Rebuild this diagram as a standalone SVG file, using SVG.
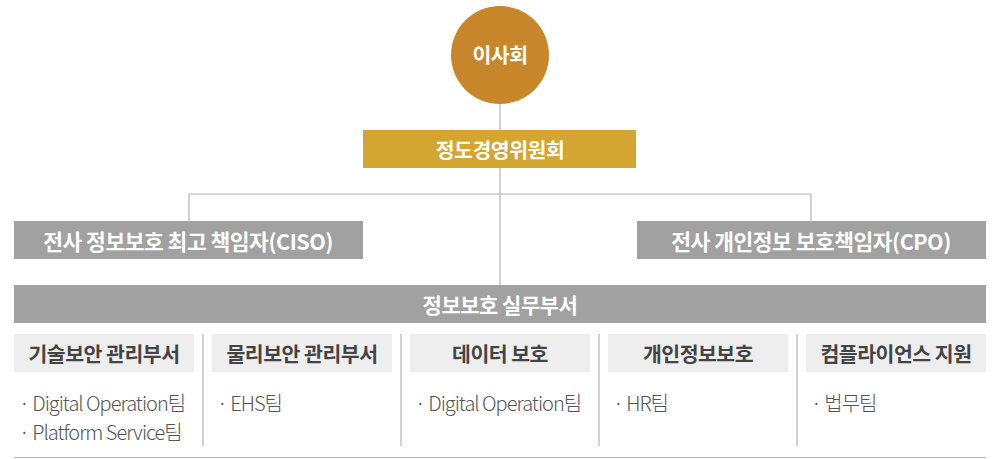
<svg xmlns="http://www.w3.org/2000/svg" width="993" height="459" viewBox="0 0 993 459">
<style>
.ln{stroke:#b4b4b4;stroke-width:1.2;fill:none}
.gray{fill:#a0a1a0}
.sub{fill:#eeeeee}
.wt{font-family:"Noto Sans CJK KR","Noto Sans",sans-serif;font-weight:700;fill:#ffffff;text-anchor:middle;dominant-baseline:central;letter-spacing:-0.5px}
.hd{font-family:"Noto Sans CJK KR","Noto Sans",sans-serif;font-weight:700;fill:#444444;font-size:20.5px;text-anchor:middle;dominant-baseline:central;letter-spacing:-0.5px}
.it{font-family:"Noto Sans CJK KR","Noto Sans",sans-serif;font-weight:300;fill:#555555;font-size:20px;dominant-baseline:central;letter-spacing:-1px}
</style>
<rect width="993" height="459" fill="#ffffff"/>
<g id="connectors">
<line class="ln" x1="500" y1="104" x2="500" y2="285"/>
<polyline class="ln" points="189,221 189,194 811,194 811,221"/>
<line class="ln" x1="203" y1="334" x2="203" y2="446"/>
<line class="ln" x1="401" y1="334" x2="401" y2="446"/>
<line class="ln" x1="599" y1="334" x2="599" y2="446"/>
<line class="ln" x1="797" y1="334" x2="797" y2="446"/>
<line class="ln" x1="14" y1="457.5" x2="986" y2="457.5"/>
</g>
<g id="board">
<ellipse cx="500" cy="55" rx="49" ry="49" fill="#c8862a"/>
<text class="wt" x="500" y="54" font-size="20.5">이사회</text>
</g>
<g id="ethics">
<rect x="363" y="130" width="273" height="38" fill="#d3a531"/>
<text class="wt" x="500" y="149" font-size="20.5">정도경영위원회</text>
</g>
<g id="ciso">
<rect class="gray" x="14" y="221" width="349" height="38"/>
<text class="wt" x="188" y="240" font-size="21.5">전사 정보보호 최고 책임자(CISO)</text>
</g>
<g id="cpo">
<rect class="gray" x="637" y="221" width="349" height="38"/>
<text class="wt" x="811" y="240" font-size="21.5">전사 개인정보 보호책임자(CPO)</text>
</g>
<g id="dept">
<rect class="gray" x="14" y="285" width="972" height="38"/>
<text class="wt" x="500" y="304" font-size="21">정보보호 실무부서</text>
</g>
<g id="tech">
<rect class="sub" x="14" y="334" width="180" height="38"/>
<text class="hd" x="104" y="353">기술보안 관리부서</text>
<text class="it" x="19" y="402">· Digital Operation팀</text>
<text class="it" x="19" y="431">· Platform Service팀</text>
</g>
<g id="phys">
<rect class="sub" x="212" y="334" width="180" height="38"/>
<text class="hd" x="302" y="353">물리보안 관리부서</text>
<text class="it" x="217" y="402">· EHS팀</text>
</g>
<g id="data">
<rect class="sub" x="410" y="334" width="180" height="38"/>
<text class="hd" x="500" y="353">데이터 보호</text>
<text class="it" x="415" y="402">· Digital Operation팀</text>
</g>
<g id="privacy">
<rect class="sub" x="608" y="334" width="180" height="38"/>
<text class="hd" x="698" y="353">개인정보보호</text>
<text class="it" x="613" y="402">· HR팀</text>
</g>
<g id="compliance">
<rect class="sub" x="806" y="334" width="180" height="38"/>
<text class="hd" x="896" y="353">컴플라이언스 지원</text>
<text class="it" x="811" y="402">· 법무팀</text>
</g>
</svg>
